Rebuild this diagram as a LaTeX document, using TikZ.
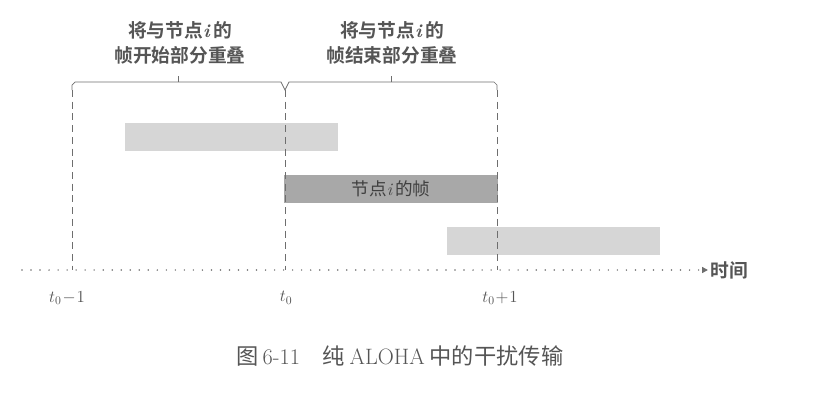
\documentclass[tikz,border=0pt]{standalone}
\usepackage{fontspec}
\usepackage{tikz}
\usetikzlibrary{arrows.meta}
\newfontfamily\cjk[BoldFont={Noto Sans CJK SC Bold}]{Noto Sans CJK SC}
\newcommand{\nodei}{{\rmfamily\itshape i}\,}
\definecolor{inkgray}{RGB}{85, 85, 85}
\definecolor{linegray}{RGB}{110, 110, 110}
\definecolor{lightbar}{RGB}{214, 214, 214}
\definecolor{darkbar}{RGB}{168, 168, 168}

\begin{document}
\begin{tikzpicture}[x=0.03cm, y=-0.03cm, inkgray,
	framebar/.style={rectangle, inner sep=0pt, minimum width=6.39cm, minimum height=0.84cm},
	overlap/.style={align=center, font=\cjk\bfseries\fontsize{16}{21}\selectfont},
	ticklabel/.style={font=\fontsize{14}{15}\selectfont}]
	\useasboundingbox (0,0) rectangle (838,408);
	% frames on the channel
	\node[framebar, fill=lightbar] (early) at (231.5,137) {};
	\node[framebar, fill=darkbar, font=\cjk\fontsize{15}{16}\selectfont, text=black!75] (mine) at (391,189) {节点\nodei 的帧};
	\node[framebar, fill=lightbar] (late) at (553.5,241) {};
	% time axis
	\coordinate (start) at (22,270);
	\coordinate (stop) at (708,270);
	\draw[linegray, line width=1.4pt, dash pattern=on 0pt off 7.7pt, line cap=round, -{Triangle[length=5pt, width=5pt]}] (start) -- (stop);
	\node[anchor=west, inner sep=2pt, font=\cjk\bfseries\fontsize{16}{17}\selectfont] (time) at (stop) {时间};
	\foreach \x/\name/\lab in {72/tm/{t_0\!-\!1}, 285/tz/{t_0}, 497/tp/{t_0\!+\!1}} {
		\coordinate (\name) at (\x,270);
		\coordinate (\name top) at (\x,90);
		\draw[linegray, dashed, dash pattern=on 6pt off 4pt] (\name top) -- (\name);
	}
	\node[ticklabel] (tmlab) at (67,298) {$t_0\!-\!1$};
	\node[ticklabel] (tzlab) at (286,298) {$t_0$};
	\node[ticklabel] (tplab) at (500,298) {$t_0\!+\!1$};
	% braces over the two overlap windows
	\draw[linegray, line width=0.6pt] (tmtop) -- (72,85) -- (75,82) -- (281,82) -- (tztop) -- (289,82) -- (494,82) -- (497,85) -- (tptop);
	\draw[linegray, line width=0.6pt] (178,82) -- (178,76) (391,82) -- (391,76);
	\node[overlap] (before) at (180,43) {将与节点\nodei 的\\帧开始部分重叠};
	\node[overlap] (after) at (392,43) {将与节点\nodei 的\\帧结束部分重叠};
	% caption
	\node[font=\cjk\fontsize{19}{21}\selectfont] (caption) at (400,356) {图\,{\rmfamily 6-11}\quad 纯 {\rmfamily ALOHA} 中的干扰传输};
\end{tikzpicture}
\end{document}
